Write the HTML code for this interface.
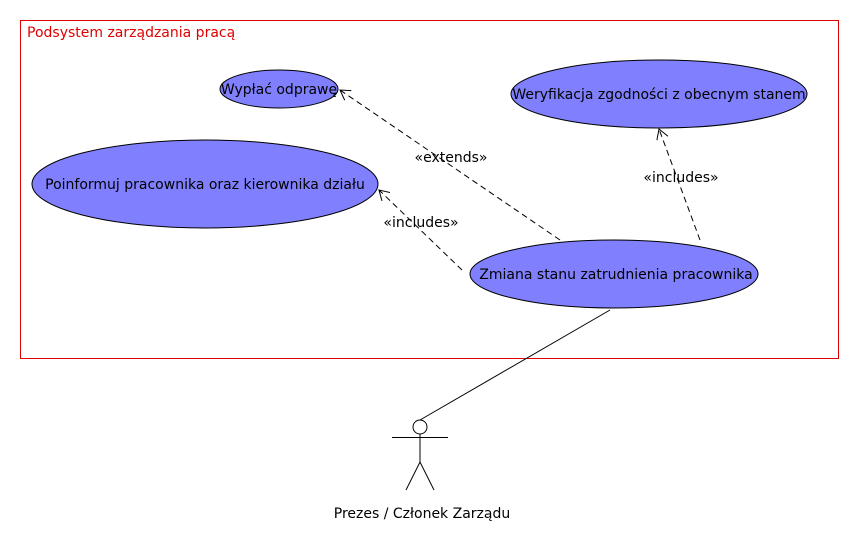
<!DOCTYPE html>
<html><head><meta charset="utf-8"><style>html,body{margin:0;padding:0;background:#fff}svg{display:block}text{font-family:"DejaVu Sans","Liberation Sans",sans-serif;font-size:14px}</style></head><body>
<svg width="860" height="560" viewBox="0 0 860 560" xmlns="http://www.w3.org/2000/svg">
<defs><marker id="a" markerWidth="12" markerHeight="12" refX="10" refY="6" orient="auto" markerUnits="userSpaceOnUse"><path d="M0,0 L10,6 L0,12" fill="none" stroke="#000"/></marker></defs>
<rect x="20.5" y="20.5" width="818" height="338" fill="none" stroke="#e00000"/>
<text x="27" y="37" fill="#e00000">Podsystem zarządzania pracą</text>
<g fill="#8080ff" stroke="#000">
<ellipse cx="279" cy="89" rx="59" ry="19"/>
<ellipse cx="659" cy="94" rx="148" ry="34"/>
<ellipse cx="205" cy="184" rx="173" ry="44"/>
<ellipse cx="614" cy="274" rx="144" ry="34"/>
</g>
<g fill="#000">
<text x="279" y="94" text-anchor="middle">Wypłać odprawę</text>
<text x="659" y="99" text-anchor="middle">Weryfikacja zgodności z obecnym stanem</text>
<text x="205" y="189" text-anchor="middle">Poinformuj pracownika oraz kierownika działu</text>
<text x="616" y="279" text-anchor="middle">Zmiana stanu zatrudnienia pracownika</text>
<text x="451" y="162" text-anchor="middle">«extends»</text>
<text x="681" y="182" text-anchor="middle">«includes»</text>
<text x="421" y="227" text-anchor="middle">«includes»</text>
<text x="422" y="518" text-anchor="middle">Prezes / Członek Zarządu</text>
</g>
<g stroke="#000" fill="none" stroke-dasharray="6,4">
<line x1="560" y1="240" x2="340" y2="90" marker-end="url(#a)"/>
<line x1="700" y1="240" x2="659" y2="129" marker-end="url(#a)"/>
<line x1="462" y1="270" x2="379" y2="190" marker-end="url(#a)"/>
</g>
<g stroke="#000" fill="none">
<line x1="610" y1="310" x2="420" y2="420"/>
<circle cx="420" cy="427" r="7" fill="#fff"/>
<line x1="392" y1="437.5" x2="448" y2="437.5"/>
<line x1="420" y1="434" x2="420" y2="462"/>
<line x1="420" y1="462" x2="406" y2="490"/>
<line x1="420" y1="462" x2="434" y2="490"/>
</g>
</svg>
</body></html>
